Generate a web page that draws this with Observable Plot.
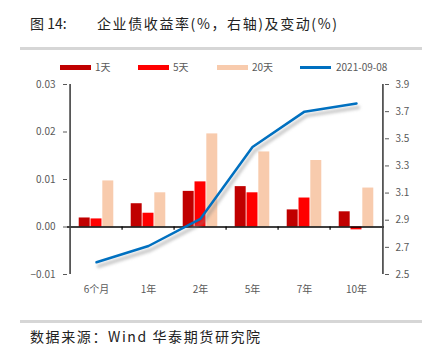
<!DOCTYPE html>
<html><head><meta charset="utf-8">
<script src="https://cdn.jsdelivr.net/npm/d3@7"></script>
<script src="https://cdn.jsdelivr.net/npm/@observablehq/plot@0.6"></script>
<style>
body{margin:0;background:#fff;}
#page{position:relative;width:432px;height:362px;overflow:hidden;font-family:"Noto Sans CJK SC","Noto Sans",sans-serif;}
.abs{position:absolute;white-space:nowrap;}
#fig{left:30px;top:13px;font-size:14px;color:#222;}
#title{left:97px;top:13px;font-size:14px;color:#222;letter-spacing:1.6px;}
.hr{position:absolute;left:20px;width:402px;height:3px;background:#d6d6d6;}
.sw{position:absolute;height:5px;width:31px;top:65px;}
.lg{position:absolute;top:59px;font-size:10px;color:#595959;line-height:16px;}
#cap{left:30px;top:326px;font-size:14px;color:#222;letter-spacing:1.6px;}
#chart{position:absolute;left:0;top:75px;}
</style></head><body>
<div id="page">
  <div class="abs" id="fig">图 14:</div>
  <div class="abs" id="title">企业债收益率(%，右轴)及变动(%)</div>
  <div class="hr" style="top:47px"></div>
  <div class="sw" style="left:60px;background:#C00000"></div><div class="lg" style="left:95px">1天</div>
  <div class="sw" style="left:138px;background:#FF0000"></div><div class="lg" style="left:173px">5天</div>
  <div class="sw" style="left:217px;background:#F8CBAD"></div><div class="lg" style="left:252px">20天</div>
  <div class="sw" style="left:300px;top:66px;height:2.5px;background:#0070C0"></div><div class="lg" style="left:336px">2021-09-08</div>
  <div id="chart"></div>
  <div class="hr" style="top:320px"></div>
  <div class="abs" id="cap">数据来源：Wind 华泰期货研究院</div>
</div>
<script>
const categories = ["6个月","1年","2年","5年","7年","10年"];
const change1d  = [0.0019, 0.0049, 0.0075, 0.0085, 0.0036, 0.0032];
const change5d  = [0.0017, 0.0029, 0.0095, 0.0072, 0.0061, -0.0006];
const change20d = [0.0097, 0.0072, 0.0196, 0.0158, 0.0140, 0.0082];
const yield0908 = [2.59, 2.71, 2.91, 3.44, 3.70, 3.76];
const leftTicks  = [-0.01, 0.00, 0.01, 0.02, 0.03];
const rightTicks = [2.5, 2.7, 2.9, 3.1, 3.3, 3.5, 3.7, 3.9];

const leftDomain = [-0.01, 0.03];
const rightDomain = [2.5, 3.9];
const toLeft = d3.scaleLinear(rightDomain, leftDomain);

const W = 432, H = 230, mL = 67, mR = 48, mT = 9, mB = 31;
const bw = (W - mL - mR) / categories.length;
const barW = 11.8;

const rows = categories.map((c, i) => ({cat: c, d1: change1d[i], d5: change5d[i], d20: change20d[i], y: toLeft(yield0908[i])}));

const grey = "#595959", axisCol = "#404040";
const chart = Plot.plot({
  width: W, height: H,
  marginLeft: mL, marginRight: mR, marginTop: mT, marginBottom: mB,
  style: {fontSize: "10px", fontFamily: "'Noto Sans CJK SC','Noto Sans',sans-serif", background: "transparent"},
  x: {domain: categories, padding: 0, axis: null, label: null},
  y: {domain: leftDomain, axis: null, label: null},
  marks: [
    Plot.barY(rows, {x: "cat", y: "d1", fill: "#C00000", insetLeft: bw/2 - 1.5*barW, insetRight: bw/2 + 0.5*barW}),
    Plot.barY(rows, {x: "cat", y: "d5", fill: "#FF0000", insetLeft: bw/2 - 0.5*barW, insetRight: bw/2 - 0.5*barW}),
    Plot.barY(rows, {x: "cat", y: "d20", fill: "#F8CBAD", insetLeft: bw/2 + 0.5*barW, insetRight: bw/2 - 1.5*barW}),
    Plot.ruleY([0], {stroke: "#000", strokeWidth: 1.3}),
    Plot.ruleX(categories.slice(1), {dx: -bw/2, y1: 0, y2: -0.0007, stroke: "#000", strokeWidth: 1.2}),
    Plot.ruleX([categories[0]], {dx: -bw/2, y1: leftDomain[0], y2: leftDomain[1], stroke: axisCol, strokeWidth: 1.6}),
    Plot.ruleX([categories[categories.length-1]], {dx: bw/2, y1: leftDomain[0], y2: leftDomain[1], stroke: axisCol, strokeWidth: 1.6}),
    Plot.lineY(rows, {x: "cat", y: "y", stroke: "#888", strokeOpacity: 0.45, strokeWidth: 3.5, dx: 2, dy: 4, className: "shadow"}),
    Plot.lineY(rows, {x: "cat", y: "y", stroke: "#0070C0", strokeWidth: 2.5}),
    Plot.axisY(leftTicks, {anchor: "left", tickSize: 4, tickPadding: 8, tickFormat: d3.format(".2f"), color: grey, label: null}),
    Plot.axisY(rightTicks.map(toLeft), {anchor: "right", tickSize: 4, tickPadding: 7, tickFormat: d => toLeft.invert(d).toFixed(1), color: grey, label: null}),
    Plot.axisX(categories, {anchor: "bottom", tickSize: 0, tickPadding: 11, color: grey, label: null})
  ]
});
d3.select(chart).selectAll("g.shadow").style("filter", "blur(1.5px)");
document.getElementById("chart").appendChild(chart);
</script>
</body></html>
